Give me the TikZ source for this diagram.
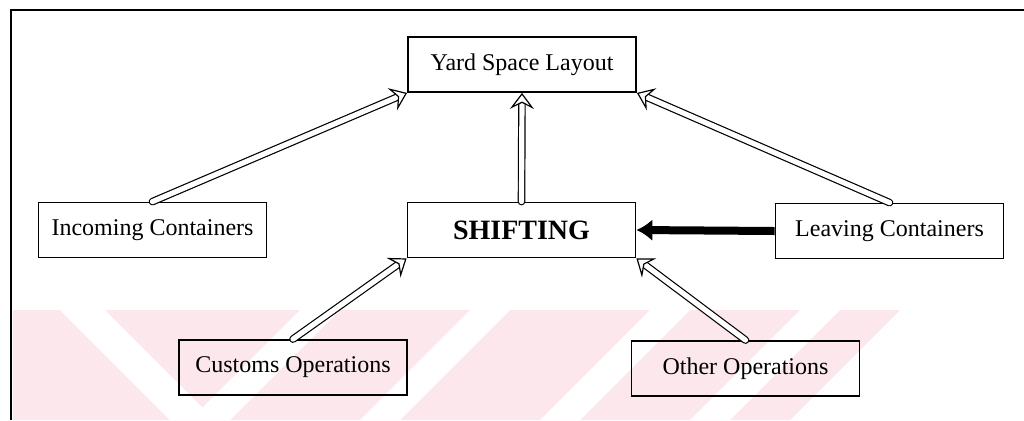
\documentclass[tikz,border=0pt]{standalone}
\usepackage{fontspec}
\setmainfont{Liberation Serif}
\usetikzlibrary{arrows.meta,calc}
\definecolor{wmpink}{RGB}{252,231,236}
\tikzset{
  box/.style={draw, line width=0.9pt, minimum width=114pt, minimum height=27.5pt, inner sep=0pt, font=\fontsize{12}{14}\selectfont},
  hollow/.style={double, double distance=2.6pt, line width=0.6pt, line cap=round, shorten >=4pt},
  hollowtip/.style={line width=0.6pt, -{Stealth[length=8pt, width=12pt, inset=3pt, fill=white]}},
  heavy/.style={line width=4pt, -{Latex[length=8pt, width=11pt]}}
}
\newcommand{\hollowto}[2]{%
  \draw[hollow] (#1) -- (#2);
  \draw[hollowtip] ($(#2)!1pt!(#1)$) -- (#2);}
\begin{document}
\begin{tikzpicture}[x=0.5pt, y=-0.5pt]
\useasboundingbox (0,0) rectangle (1024,420);
\fill[wmpink] (13,310) -- (900,310) -- (790,420) -- (13,420) -- cycle;
\fill[white] (60,310) -- (105,310) -- (215,420) -- (170,420) -- cycle;
\fill[white] (300,310) -- (340,310) -- (230,420) -- (190,420) -- cycle;
\fill[white] (470,310) -- (510,310) -- (400,420) -- (360,420) -- cycle;
\fill[white] (650,310) -- (690,310) -- (580,420) -- (540,420) -- cycle;
\fill[white] (800,310) -- (840,310) -- (730,420) -- (690,420) -- cycle;
\draw[line width=1pt] (11,420) -- (11,10) -- (1024,10);

\node[box] (yard) at (522,64.5) {Yard Space Layout};
\node[box] (incoming) at (152.5,230) {Incoming Containers};
\node[box, font=\fontsize{14}{16}\selectfont\bfseries] (shift) at (521.5,230) {SHIFTING};
\node[box] (leaving) at (889.5,231) {Leaving Containers};
\node[box] (customs) at (293,367.5) {Customs Operations};
\node[box] (other) at (745.5,368.5) {Other Operations};

\hollowto{incoming.north}{yard.south west}
\hollowto{shift.north}{yard.south}
\hollowto{leaving.north}{yard.south east}
\hollowto{customs.north}{shift.south west}
\hollowto{other.north}{shift.south east}
\draw[heavy] (leaving.west) -- (shift.east);
\end{tikzpicture}
\end{document}
